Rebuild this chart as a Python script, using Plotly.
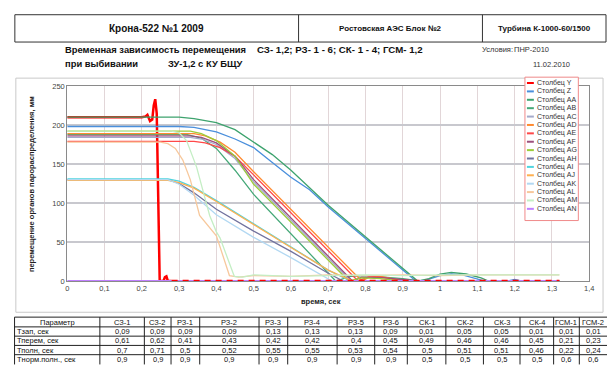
import plotly.graph_objects as go

W, H = 612, 367
FONT = "Liberation Sans, Arial, sans-serif"

# ---------------- series data: time (s) / displacement (mm) ----------------
series_names = ["Столбец Y", "Столбец Z", "Столбец AA", "Столбец AB", "Столбец AC",
                "Столбец AD", "Столбец AE", "Столбец AF", "Столбец AG", "Столбец AH",
                "Столбец AI", "Столбец AJ", "Столбец AK", "Столбец AL", "Столбец AM",
                "Столбец AN"]
series_colors = ["#ff0000", "#4a8fdc", "#3ea36e", "#45a878", "#a4aacb",
                 "#ff8a30", "#ff4848", "#9c4f7c", "#9ccc3a", "#72739f",
                 "#50d4de", "#ffb050", "#b2d8f2", "#f7c89c", "#c4eec4",
                 "#c080ff"]
series_widths = [2.5, 1.3, 1.3, 1.3, 1.3, 1.3, 1.3, 1.3, 1.3, 1.3, 1.3, 1.3, 1.3, 1.3, 1.3, 2]

t_Y = [0, 0.20, 0.21, 0.215, 0.222, 0.228, 0.232, 0.236, 0.240, 0.244, 0.248, 0.258, 0.262, 0.266, 0.270, 0.28]
v_Y = [210, 210, 211, 213, 205, 207, 225, 233, 215, 100, 0, 0, 5, 6, 0, 0]
t_Y_tail = [0.28, 1.32]
v_Y_tail = [0, 0]

t_Z = [0, 0.30, 0.34, 0.40, 0.45, 0.50, 0.55, 0.60, 0.65, 0.70, 0.935, 0.96, 1.00, 1.03, 1.06, 1.10, 1.12, 1.18, 1.20, 1.22, 1.32]
v_Z = [198, 198, 197, 191, 182, 171, 152, 133, 117, 95, 0, 1, 7, 9, 8, 2, 0, 0, 2, 0, 0]

t_AA = [0, 0.30, 0.34, 0.40, 0.45, 0.50, 0.55, 0.60, 0.65, 0.70, 0.94, 0.97, 1.00, 1.03, 1.07, 1.11, 1.13, 1.32]
v_AA = [210, 210, 208, 203, 194, 178, 162, 142, 120, 97, 0, 3, 9, 11, 9, 4, 0, 0]

t_AB = [0, 0.32, 0.36, 0.40, 0.45, 0.50, 0.72, 0.76, 0.80, 0.85, 0.90, 0.95, 1.32]
v_AB = [188, 188, 183, 170, 142, 111, 0, 6, 7, 5, 3, 0, 0]

t_AC = [0, 0.33, 0.36, 0.40, 0.45, 0.50, 0.76, 1.32]
v_AC = [184, 184, 182, 175, 157, 127, 0, 0]

t_AD = [0, 0.34, 0.37, 0.41, 0.45, 0.50, 0.79, 0.81, 0.84, 0.88, 0.91, 1.32]
v_AD = [189, 189, 186, 178, 165, 140, 0, 5, 6, 3, 0, 0]

t_AE = [0, 0.34, 0.37, 0.41, 0.45, 0.50, 0.78, 0.81, 0.84, 0.88, 0.92, 1.32]
v_AE = [179, 179, 177, 171, 160, 136, 0, 6, 5, 2, 0, 0]

t_AF = [0, 0.33, 0.36, 0.40, 0.45, 0.50, 0.765, 0.79, 0.85, 0.92, 0.95, 1.32]
v_AF = [186, 186, 184, 177, 160, 130, 0, 5, 4, 1, 0, 0]

t_AG = [0, 0.33, 0.36, 0.40, 0.45, 0.50, 0.755, 0.79, 0.84, 0.90, 1.32]
v_AG = [192, 192, 189, 180, 160, 124, 0, 4, 3, 0, 0]

t_AH = [0, 0.27, 0.30, 0.34, 0.40, 0.50, 0.60, 0.70, 0.74, 1.32]
v_AH = [130, 130, 125, 113, 92, 64, 38, 10, 0, 0]

t_AI = [0, 0.27, 0.30, 0.34, 0.40, 0.50, 0.60, 0.70, 0.76, 1.32]
v_AI = [131, 131, 128, 120, 103, 73, 44, 14, 0, 0]

t_AJ = [0, 0.27, 0.30, 0.34, 0.40, 0.50, 0.60, 0.70, 0.765, 1.32]
v_AJ = [129, 129, 126, 119, 102, 72, 43, 14, 0, 0]

t_AK = [0, 0.27, 0.30, 0.34, 0.40, 0.50, 0.60, 0.68, 0.71, 1.32]
v_AK = [130, 130, 124, 110, 85, 56, 30, 8, 0, 0]

t_AL = [0, 0.25, 0.27, 0.29, 0.31, 0.33, 0.355, 0.39, 0.40, 0.435, 0.46, 0.50, 0.60, 0.70, 0.80, 0.90, 1.00, 1.10, 1.20, 1.32]
v_AL = [178, 178, 176, 170, 155, 130, 84, 64, 58, 7, 5, 7, 6, 8, 7, 8, 7, 8, 8, 8]

t_AM = [0, 0.28, 0.30, 0.32, 0.347, 0.382, 0.40, 0.41, 0.448, 0.47, 0.50, 0.60, 0.70, 0.80, 0.90, 1.00, 1.10, 1.20, 1.32]
v_AM = [192, 192, 190, 180, 146, 84, 63, 55, 6, 5, 8, 6, 7, 8, 7, 8, 8, 8, 8]

t_AN = [0, 1.32]
v_AN = [0, 0]

series_t = [t_Y, t_Z, t_AA, t_AB, t_AC, t_AD, t_AE, t_AF, t_AG, t_AH, t_AI, t_AJ, t_AK, t_AL, t_AM, t_AN]
series_v = [v_Y, v_Z, v_AA, v_AB, v_AC, v_AD, v_AE, v_AF, v_AG, v_AH, v_AI, v_AJ, v_AK, v_AL, v_AM, v_AN]

x_ticks = [round(i * 0.1, 1) for i in range(15)]
y_ticks = [0, 50, 100, 150, 200, 250]

# ---------------- table data ----------------
table_header = ["Параметр", "СЗ-1", "СЗ-2", "РЗ-1", "РЗ-2", "РЗ-3", "РЗ-4", "РЗ-5", "РЗ-6",
                "СК-1", "СК-2", "СК-3", "СК-4", "ГСМ-1", "ГСМ-2"]
row_labels = ["Тзап, сек", "Тперем, сек", "Тполн, сек", "Тнорм.полн., сек"]
t_zap = [0.09, 0.09, 0.09, 0.09, 0.13, 0.13, 0.13, 0.09, 0.01, 0.05, 0.05, 0.01, 0.01, 0.01]
t_perem = [0.61, 0.62, 0.41, 0.43, 0.42, 0.42, 0.4, 0.45, 0.49, 0.46, 0.46, 0.45, 0.21, 0.23]
t_poln = [0.7, 0.71, 0.5, 0.52, 0.55, 0.55, 0.53, 0.54, 0.5, 0.51, 0.51, 0.46, 0.22, 0.24]
t_norm = [0.9, 0.9, 0.9, 0.9, 0.9, 0.9, 0.9, 0.9, 0.5, 0.5, 0.5, 0.5, 0.6, 0.6]
table_rows = [t_zap, t_perem, t_poln, t_norm]

header_cells = ["Крона-522 №1 2009", "Ростовская АЭС Блок №2", "Турбина К-1000-60/1500"]


def fx(px):
    return px / W


def fy(py):
    return 1 - py / H


def fmt(v):
    return ("%g" % v).replace(".", ",")


fig = go.Figure()

for name, t, v, c, w in zip(series_names, series_t, series_v, series_colors, series_widths):
    fig.add_trace(go.Scatter(x=t, y=v, mode="lines", name=name,
                             line=dict(color=c, width=w), showlegend=False))
fig.add_trace(go.Scatter(x=t_Y_tail, y=v_Y_tail, mode="lines", showlegend=False,
                         line=dict(color=series_colors[0], width=2.5, dash="6px,5px")))

shapes = []
annotations = []

# outer chart panel
shapes.append(dict(type="rect", xref="paper", yref="paper", x0=fx(14), x1=fx(608), y0=fy(316), y1=fy(76),
                   line=dict(color="#c9c9c9", width=1), fillcolor="rgba(0,0,0,0)", layer="below"))

# top header box
hdr_bounds = [13, 300, 486, 611]
shapes.append(dict(type="rect", xref="paper", yref="paper", x0=fx(13), x1=fx(611), y0=fy(39), y1=fy(11),
                   line=dict(color="#333", width=1)))
for b in hdr_bounds[1:-1]:
    shapes.append(dict(type="line", xref="paper", yref="paper", x0=fx(b), x1=fx(b), y0=fy(39), y1=fy(11),
                       line=dict(color="#333", width=1)))
hdr_sizes = [10, 8, 8]
for i, txt in enumerate(header_cells):
    annotations.append(dict(xref="paper", yref="paper", x=fx((hdr_bounds[i] + hdr_bounds[i + 1]) / 2), y=fy(25),
                            text="<b>%s</b>" % txt, showarrow=False, xanchor="center", yanchor="middle",
                            font=dict(family=FONT, size=hdr_sizes[i], color="#111")))

# titles
title_items = [
    (62, 47, "Временная зависимость перемещения", 9.4),
    (256, 47, "СЗ- 1,2; РЗ- 1 - 6; СК- 1 - 4; ГСМ- 1,2", 9.7),
    (62, 61, "при выбивании", 9.4),
    (166, 61, "ЗУ-1,2 с КУ БЩУ", 9.4),
]
for x, y, txt, s in title_items:
    annotations.append(dict(xref="paper", yref="paper", x=fx(x), y=fy(y), text="<b>%s</b>" % txt,
                            showarrow=False, xanchor="left", yanchor="middle",
                            font=dict(family=FONT, size=s, color="#111")))
for x, y, txt in [(484, 47, "Условия:"), (516, 47, "ПНР-2010"), (535, 62, "11.02.2010")]:
    annotations.append(dict(xref="paper", yref="paper", x=fx(x), y=fy(y), text=txt,
                            showarrow=False, xanchor="left", yanchor="middle",
                            font=dict(family=FONT, size=7.5, color="#333")))

# axis titles
annotations.append(dict(xref="paper", yref="paper", x=fx(30), y=fy(185),
                        text="<b>перемещение органов парораспределения, мм</b>", textangle=-90,
                        showarrow=False, xanchor="center", yanchor="middle",
                        font=dict(family=FONT, size=7.5, color="#222")))
annotations.append(dict(xref="paper", yref="paper", x=fx(323), y=fy(305),
                        text="<b>время, сек</b>", showarrow=False, xanchor="center", yanchor="middle",
                        font=dict(family=FONT, size=7.5, color="#222")))

# custom legend
leg_x0, leg_x1, leg_y0, leg_y1 = 529, 583, 75, 222
shapes.append(dict(type="rect", xref="paper", yref="paper", x0=fx(leg_x0), x1=fx(leg_x1),
                   y0=fy(leg_y1), y1=fy(leg_y0), line=dict(color="#f08a8a", width=1), fillcolor="white"))
for i, (name, c) in enumerate(zip(series_names, series_colors)):
    yy = 81 + i * 8.6
    shapes.append(dict(type="line", xref="paper", yref="paper", x0=fx(531), x1=fx(538), y0=fy(yy), y1=fy(yy),
                       line=dict(color=c, width=2)))
    annotations.append(dict(xref="paper", yref="paper", x=fx(539.5), y=fy(yy), text=name, showarrow=False,
                            xanchor="left", yanchor="middle", font=dict(family=FONT, size=7, color="#333")))

# bottom table
col_bounds = [12.7, 99, 144, 171, 200, 260, 289, 339, 377, 410, 449, 487, 524, 558, 584, 612]
row_bounds = [321, 331, 340.5, 350, 359.5, 369.5]
for b in col_bounds[:-1]:
    shapes.append(dict(type="line", xref="paper", yref="paper", x0=fx(b), x1=fx(b),
                       y0=fy(row_bounds[-1]), y1=fy(row_bounds[0]), line=dict(color="#222", width=1)))
for rb in row_bounds[:-1]:
    shapes.append(dict(type="line", xref="paper", yref="paper", x0=fx(col_bounds[0]), x1=fx(612),
                       y0=fy(rb), y1=fy(rb), line=dict(color="#222", width=1)))
tfont = dict(family=FONT, size=7.5, color="#111")
for j, txt in enumerate(table_header):
    annotations.append(dict(xref="paper", yref="paper", x=fx((col_bounds[j] + col_bounds[j + 1]) / 2),
                            y=fy((row_bounds[0] + row_bounds[1]) / 2), text=txt, showarrow=False,
                            xanchor="center", yanchor="middle", font=tfont))
for r, (lab, vals) in enumerate(zip(row_labels, table_rows)):
    yc = fy((row_bounds[r + 1] + row_bounds[r + 2]) / 2)
    annotations.append(dict(xref="paper", yref="paper", x=fx(col_bounds[0] + 0.5), y=yc, text=lab,
                            showarrow=False, xanchor="left", yanchor="middle", font=tfont))
    for j, v in enumerate(vals):
        annotations.append(dict(xref="paper", yref="paper", x=fx((col_bounds[j + 1] + col_bounds[j + 2]) / 2),
                                y=yc, text=fmt(v), showarrow=False, xanchor="center", yanchor="middle",
                                font=tfont))

fig.update_layout(
    width=W, height=H, margin=dict(l=0, r=0, t=0, b=0),
    paper_bgcolor="white", plot_bgcolor="white",
    separators=", ",
    font=dict(family=FONT, size=7.5, color="#444"),
    shapes=shapes, annotations=annotations,
    xaxis=dict(domain=[fx(66), fx(594)], range=[0, 1.4], tickvals=x_ticks,
               showgrid=True, gridcolor="#e2d6d8", gridwidth=1,
               showline=True, linecolor="#8a8a8a", linewidth=1, mirror=True,
               ticks="", zeroline=False, tickfont=dict(size=7.5, color="#444")),
    yaxis=dict(domain=[fy(284), fy(84)], range=[0, 250], tickvals=y_ticks,
               showgrid=True, gridcolor="#c8c8ce", gridwidth=1.5,
               showline=True, linecolor="#8a8a8a", linewidth=1, mirror=True,
               ticks="", zeroline=False, tickfont=dict(size=7.5, color="#444")),
)

fig.write_html("out.html", config={"displayModeBar": False},
               post_script="document.body.style.margin='0';document.body.style.overflow='hidden';")
